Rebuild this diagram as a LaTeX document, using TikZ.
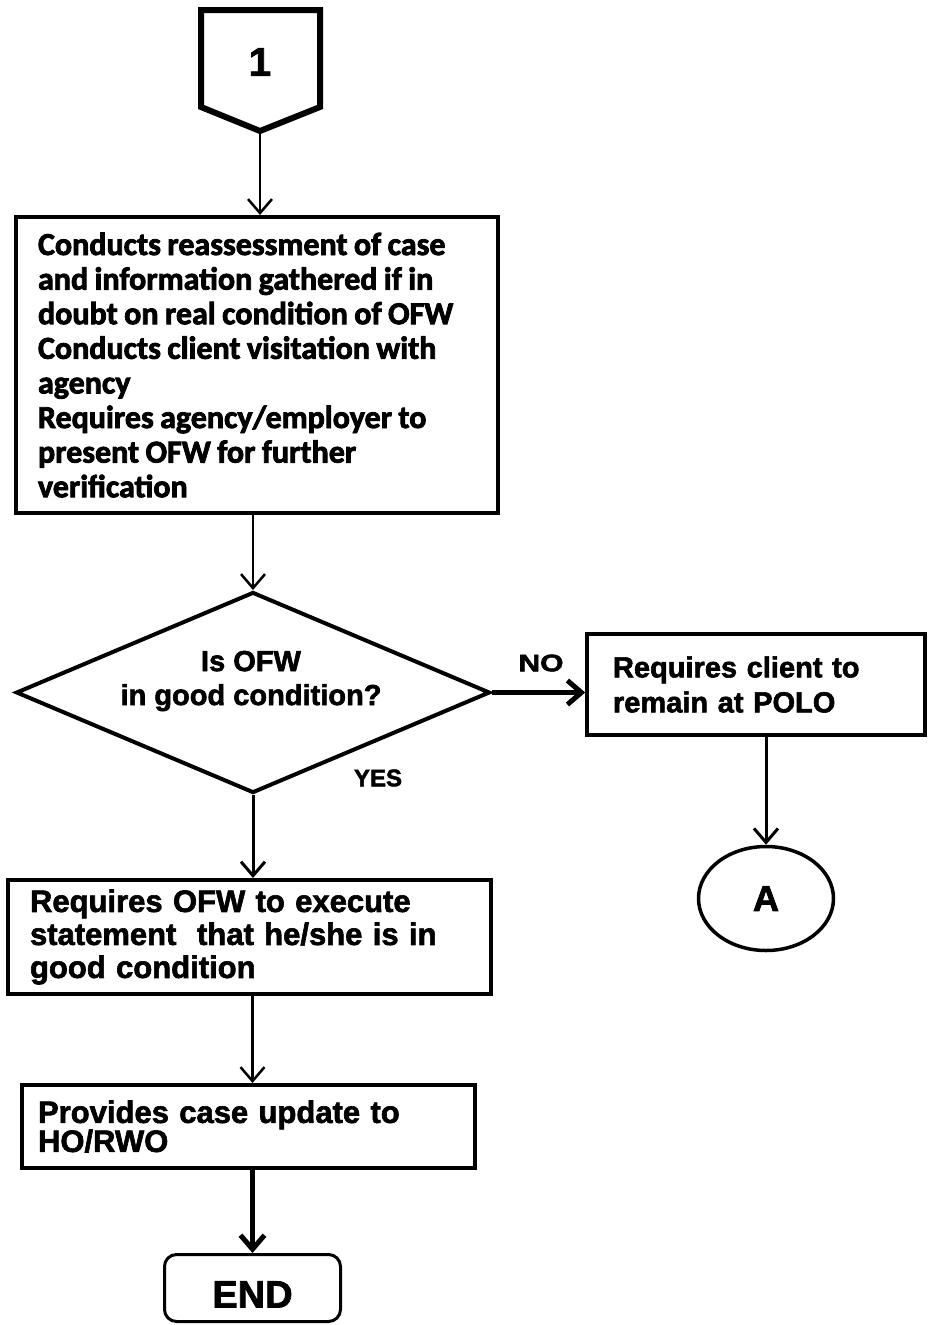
\documentclass[tikz,border=0pt]{standalone}
\usepackage{fontspec}
\setmainfont{Liberation Sans}[BoldFeatures={FakeBold=2}]
\newfontfamily\calfont{Carlito}[BoldFeatures={FakeBold=2.5}]
\usetikzlibrary{arrows.meta,shapes.geometric}
\newcommand\tightwords{\spaceskip=0.2em\relax}

\begin{document}
\begin{tikzpicture}[x=1pt,y=-1pt,
  every node/.style={font=\bfseries},
  procbox/.style={draw, rectangle, line width=4pt, inner ysep=0pt, align=left},
  flow/.style={-{Straight Barb[length=14pt,width=24pt]}, line width=2.5pt},
  lbl/.style={font=\bfseries\fontsize{24}{24}\selectfont, inner sep=0pt},
]
\useasboundingbox (0,0) rectangle (929,1325);

% off-page connector "1"
\draw[line width=6pt, line join=miter]
  (201,10) -- (320,10) -- (320,107) -- (260,131) -- (201,107) -- cycle;
\node[font=\bfseries\fontsize{40}{40}\selectfont] (n1) at (260,62) {1};
\coordinate (p1) at (260,134);

% first process step
\node[procbox, minimum width=482pt, minimum height=296pt, inner xsep=22pt,
      text width=438pt, font=\calfont\bfseries\fontsize{32}{34.6}\selectfont]
  (b1) at (257,365)
  {\tightwords
   \mbox{Conducts reassessment of case}\\
   \mbox{and information gathered if in}\\
   \mbox{doubt on real condition of OFW}\\
   \mbox{Conducts client visitation with}\\
   agency\\
   \mbox{Requires agency/employer to}\\
   \mbox{present OFW for further}\\
   verification};

% decision
\node[draw, diamond, line width=4pt, minimum width=474pt, minimum height=201pt,
      inner sep=0pt] (d) at (253,692.5) {};
\node[font=\bfseries\fontsize{29}{34}\selectfont, align=center] (dq) at (251,681)
  {Is OFW\\in good condition?};

% NO branch
\node[procbox, line width=3.5pt, minimum width=338pt, minimum height=101pt,
      inner xsep=26pt, text width=286pt, font=\bfseries\fontsize{29}{35}\selectfont]
  (b2) at (756,684.5)
  {Requires client to\\remain at POLO};
\node[draw, ellipse, line width=3.5pt, minimum width=135pt, minimum height=104pt,
      inner sep=0pt, font=\bfseries\fontsize{36}{36}\selectfont]
  (ea) at (766,898.5) {A};

% YES branch
\node[procbox, minimum width=483pt, minimum height=114pt, inner xsep=22pt,
      text width=439pt, font=\bfseries\fontsize{31}{33}\selectfont]
  (b3) at (249.5,937)
  {Requires OFW to execute\\
   statement\ \ that he/she is in\\
   good condition};
\node[procbox, minimum width=453pt, minimum height=83pt, inner xsep=16pt,
      text width=421pt, font=\bfseries\fontsize{31}{29}\selectfont]
  (b4) at (248.5,1126.5)
  {Provides case update to\\HO/RWO};
\node[draw, rectangle, rounded corners=12pt, line width=3pt,
      minimum width=176pt, minimum height=67pt, inner sep=0pt, text height=39pt,
      font=\bfseries\fontsize{38}{38}\selectfont]
  (be) at (252.5,1288) {END};

% connectors
\draw[flow] (p1) -- (p1 |- b1.north);
\draw[flow] (b1.south -| d.north) -- (d.north);
\draw[flow, line width=5pt] (d.east) -- (d.east -| b2.west);
\draw[flow, line width=3pt] (d.south) -- (d.south |- b3.north);
\draw[flow, line width=3pt] (b2.south -| ea.north) -- (ea.north);
\draw[flow] (b3.south -| be.north) -- (b4.north -| be.north);
\draw[flow, line width=5pt] (b4.south -| be.north) -- (be.north);

% branch labels
\node[lbl] (lno) at (541,663) {\scalebox{1.25}[1]{NO}};
\node[lbl] (lyes) at (378,778) {YES};
\end{tikzpicture}
\end{document}
